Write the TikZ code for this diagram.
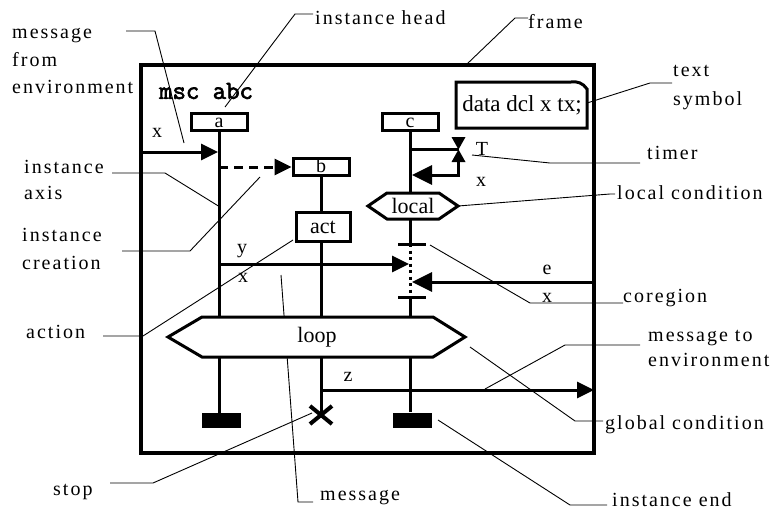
\documentclass[tikz,border=0pt]{standalone}
\usepackage{fontspec}
\setmainfont{Liberation Serif}
\newfontfamily\lblfont[LetterSpace=10]{Liberation Serif}
\newfontfamily\mscfont[FakeBold=2.5]{Latin Modern Mono}
\usetikzlibrary{arrows.meta,calc}
\begin{document}
\begin{tikzpicture}[x=1pt,y=-1pt,
  thk/.style={line width=3pt},
  ann/.style={line width=0.9pt},
  lab/.style={font=\lblfont\fontsize{20}{27}\selectfont, inner sep=0pt, anchor=west, align=left},
  sml/.style={font=\fontsize{20}{22}\selectfont, inner sep=0pt},
  inst/.style={draw, line width=3pt, fill=white, minimum width=56pt, minimum height=17pt,
               inner sep=0pt, text height=10pt, text depth=0pt, font=\fontsize{20}{20}\selectfont},
  arr/.style={-{Triangle[length=17pt,width=16pt]}, line width=3pt},
  bigarr/.style={-{Triangle[length=20pt,width=19pt]}, line width=3pt},
  endbar/.style={fill=black, inner sep=0pt, minimum width=39pt, minimum height=15pt},
]
\useasboundingbox (0,0) rectangle (773,512);

% ---------- annotation leaders ----------
\draw[ann] (126,31) -- (155,31) -- (184,143);
\draw[ann] (313,14) -- (295,14) -- (225,107);
\draw[ann] (528,18) -- (515,18) -- (467,64);
\draw[ann] (587,103) -- (650,83) -- (672,83);
\draw[ann] (472,155) -- (550,163) -- (640,163);
\draw[ann] (458,206) -- (610,194) -- (615,194);
\draw[ann] (430,245) -- (530,303) -- (623,303);
\draw[ann] (485,389) -- (565,345) -- (640,345);
\draw[ann] (470,347) -- (575,421) -- (603,421);
\draw[ann] (438,420) -- (570,505) -- (607,505);
\draw[ann] (112,173) -- (165,173) -- (220,207);
\draw[ann] (122,251) -- (190,251) -- (260,177);
\draw[ann] (103,336) -- (143,336) -- (293,240);
\draw[ann] (110,483) -- (153,483) -- (312,413);
\draw[ann] (281,275) -- (298,502) -- (313,502);

% ---------- frame ----------
\draw[line width=3.3pt] (141,65) rectangle (594,453);
\node[font=\mscfont\fontsize{26}{26}\selectfont, inner sep=0pt, anchor=west] (msc) at (159,91) {msc abc};

% ---------- instances ----------
\node[inst] (a) at (219,122) {a};
\node[inst] (b) at (321,167) {b};
\node[inst] (c) at (410,122) {c};
\node[draw, line width=3pt, fill=white, minimum width=54pt, minimum height=29pt, inner sep=0pt,
      font=\fontsize{22}{22}\selectfont] (act) at (323,227) {act};
\node[endbar] (endA) at (221,420.5) {};
\node[endbar] (endC) at (412,420) {};
\coordinate (stop) at (321,415);

\coordinate (locN) at (410,193);
\coordinate (locS) at (410,219);
\coordinate (co1) at (410,244);
\coordinate (co2) at (410,297);

% axes
\draw[thk] (a.south) -- (a.south |- endA.north);
\draw[thk] (b.south) -- (act.north -| b.south);
\draw[thk] (act.south -| b.south) -- (stop);
\draw[thk] (c.south) -- (locN);
\draw[thk] (locS) -- (co1);
\draw[line width=3pt, dash pattern=on 3pt off 3.5pt] (co1) -- (co2);
\draw[thk] (co2) -- (co2 |- endC.north);
\draw[thk] (398,244) -- (426,244);
\draw[thk] (398,297) -- (426,297);

% stop cross
\draw[line width=4pt] ($(stop)+(-11,-9)$) -- ($(stop)+(11,9)$);
\draw[line width=4pt] ($(stop)+(-11,9)$) -- ($(stop)+(11,-9)$);

% ---------- messages ----------
\coordinate (envIn) at (141,152);
\coordinate (aIn) at (218,152);
\draw[arr] (envIn) -- (aIn);
\coordinate (aCr) at (219,167);
\draw[arr, dash pattern=on 9pt off 6pt] (aCr) -- (b.west);
\coordinate (aY) at (219,264);
\coordinate (coY) at (409,264);
\draw[arr] (aY) -- (coY);
\coordinate (envE) at (594,282);
\coordinate (coE) at (412,282);
\draw[bigarr] (envE) -- (coE);
\coordinate (bZ) at (321,390);
\coordinate (envZ) at (594,390);
\draw[arr] (bZ) -- (envZ);

% timer
\coordinate (tSet) at (410,149.5);
\coordinate (tMid) at (458.5,149.5);
\draw[thk] (tSet) -- (tMid);
\fill (451.5,137) -- (465.5,137) -- (tMid) -- cycle;
\fill (tMid) -- (465.5,162) -- (451.5,162) -- cycle;
\coordinate (tBot) at (458.5,175);
\coordinate (tOut) at (412,175);
\draw[thk] (458.5,161) -- (tBot);
\draw[bigarr] (460,175) -- (tOut);

% ---------- conditions ----------
\draw[thk, fill=white] (368,206) -- (387,193) -- (439,193) -- (458,206) -- (439,219) -- (387,219) -- cycle;
\node[font=\fontsize{22}{22}\selectfont, inner sep=0pt] (local) at (413,206) {local};
\draw[thk, fill=white] (168,337) -- (202,317) -- (433,317) -- (465,337) -- (433,357) -- (202,357) -- cycle;
\node[font=\fontsize{22}{22}\selectfont, inner sep=0pt] (loop) at (317,337) {loop};

% ---------- text symbol ----------
\draw[thk, fill=white] (456,82) -- (571,82) .. controls (577,81) and (583,83) .. (587,89) -- (587,128) -- (456,128) -- cycle;
\node[font=\fontsize{23}{23}\selectfont, inner sep=0pt] (txt) at (522,105) {data dcl x tx;};

% ---------- small labels ----------
\node[sml] (mx) at (157,133) {x};
\node[sml] (my) at (242,251) {y};
\node[sml] (my2) at (243,278) {x};
\node[sml] (me) at (547,270) {e};
\node[sml] (me2) at (547,298) {x};
\node[sml] (mz) at (348,377) {z};
\node[sml] (tT) at (482,149) {T};
\node[sml] (tx) at (481,182) {x};

% ---------- annotation labels ----------
\node[lab, font=\lblfont\fontsize{20}{27.5}\selectfont] (lMsgEnv) at (12,61) {message\\from\\environment};
\node[lab] (lHead) at (315,18) {instance head};
\node[lab] (lFrame) at (528,22) {frame};
\node[lab, font=\lblfont\fontsize{20}{29}\selectfont] (lText) at (673,88) {text\\symbol};
\node[lab] (lTimer) at (647,153) {timer};
\node[lab] (lLocal) at (617,193) {local condition};
\node[lab] (lCoreg) at (623,298) {coregion};
\node[lab, font=\lblfont\fontsize{20}{25}\selectfont] (lMsgTo) at (648,348) {message to\\environment};
\node[lab] (lGlobal) at (605,425) {global condition};
\node[lab] (lInstEnd) at (612,500) {instance end};
\node[lab, font=\lblfont\fontsize{20}{26}\selectfont] (lAxis) at (24,180) {instance\\axis};
\node[lab, font=\lblfont\fontsize{20}{28}\selectfont] (lCreate) at (22,249) {instance\\creation};
\node[lab] (lAction) at (26,332) {action};
\node[lab] (lStop) at (53,492) {stop};
\node[lab] (lMsg) at (320,498) {message};
\end{tikzpicture}
\end{document}
